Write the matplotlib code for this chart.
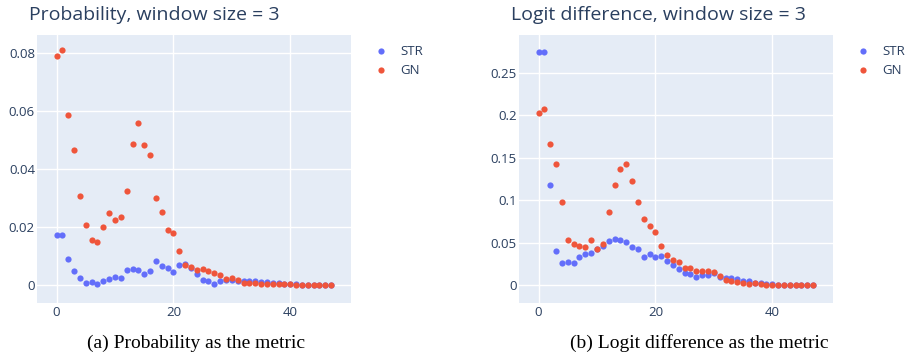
import matplotlib
matplotlib.use('Agg')
import matplotlib.pyplot as plt
from matplotlib.ticker import FuncFormatter
import numpy as np

# window position index (0..47)
positions = list(range(48))

# probability metric
prob_str = [0.0175, 0.0175, 0.0090, 0.0051, 0.0024, 0.0009, 0.0013, 0.0006, 0.0014, 0.0022,
            0.0029, 0.0026, 0.0052, 0.0055, 0.0054, 0.0040, 0.0049, 0.0084, 0.0066, 0.0059,
            0.0045, 0.0069, 0.0075, 0.0061, 0.0038, 0.0018, 0.0015, 0.0005, 0.0015, 0.0020,
            0.0020, 0.0016, 0.0015, 0.0015, 0.0014, 0.0013, 0.0011, 0.0009, 0.0007, 0.0006,
            0.0004, 0.0003, 0.0002, 0.0002, 0.0001, 0.0001, 0.0001, 0.0000]
prob_gn = [0.0790, 0.0810, 0.0586, 0.0467, 0.0308, 0.0207, 0.0157, 0.0149, 0.0201, 0.0249,
           0.0226, 0.0234, 0.0325, 0.0486, 0.0559, 0.0485, 0.0449, 0.0302, 0.0252, 0.0191,
           0.0179, 0.0119, 0.0071, 0.0064, 0.0052, 0.0056, 0.0048, 0.0041, 0.0034, 0.0023,
           0.0026, 0.0017, 0.0009, 0.0007, 0.0007, 0.0006, 0.0005, 0.0005, 0.0004, 0.0004,
           0.0003, 0.0002, 0.0002, 0.0001, 0.0001, 0.0001, 0.0001, 0.0001]

# logit difference metric
logit_str = [0.274, 0.274, 0.1184, 0.0404, 0.0266, 0.0274, 0.0262, 0.0329, 0.0372, 0.0384,
             0.0424, 0.0459, 0.0525, 0.0549, 0.0537, 0.0506, 0.0447, 0.0433, 0.0333, 0.0367,
             0.0337, 0.0345, 0.0292, 0.0236, 0.0196, 0.0141, 0.0129, 0.0102, 0.0116, 0.0125,
             0.0140, 0.0102, 0.0090, 0.0082, 0.0076, 0.0055, 0.0047, 0.0033, 0.0029, 0.0017,
             0.0013, 0.0008, 0.0006, 0.0005, 0.0004, 0.0003, 0.0002, 0.0001]
logit_gn = [0.203, 0.208, 0.1659, 0.1431, 0.0984, 0.0529, 0.0490, 0.0459, 0.0455, 0.0537,
            0.0431, 0.0490, 0.0862, 0.1176, 0.1365, 0.1430, 0.1227, 0.0982, 0.0780, 0.0701,
            0.0627, 0.0462, 0.0356, 0.0298, 0.0273, 0.0200, 0.0200, 0.0173, 0.0171, 0.0163,
            0.0158, 0.0110, 0.0061, 0.0053, 0.0043, 0.0029, 0.0020, 0.0026, 0.0018, 0.0008,
            0.0003, 0.0001, 0.0001, 0.0001, 0.0001, 0.0001, 0.0001, 0.0001]

BLUE = '#636EFA'
RED = '#EF553B'
BG = '#E5ECF6'
TXT = '#2a3f5f'

W, H = 907, 358
fig = plt.figure(figsize=(W / 100, H / 100), dpi=100)
plt.rcParams['font.family'] = ['Open Sans', 'DejaVu Sans']


def px_axes(x0, y0, x1, y1):
    return fig.add_axes([x0 / W, 1 - y1 / H, (x1 - x0) / W, (y1 - y0) / H])


def style(ax, ylim, yticks, title):
    ax.set_facecolor(BG)
    for s in ax.spines.values():
        s.set_visible(False)
    ax.set_xlim(-3.35, 50.4)
    ax.set_ylim(*ylim)
    ax.set_xticks([0, 20, 40])
    ax.set_yticks(yticks)
    ax.yaxis.set_major_formatter(FuncFormatter(lambda v, p: f'{v:g}'))
    ax.grid(True, color='white', linewidth=1)
    ax.set_axisbelow(True)
    ax.tick_params(length=0, labelsize=9.5, labelcolor=TXT)
    ax.tick_params(axis='y', pad=1.5)
    ax.tick_params(axis='x', pad=2.5)
    ax.set_title(title, loc='left', x=-0.027, y=1.025, fontsize=14, color=TXT)
    leg = ax.legend(loc='upper left', bbox_to_anchor=(1.015, 1.008), frameon=False,
                    fontsize=9.5, handletextpad=0.5, labelspacing=0.45,
                    bbox_transform=ax.transAxes)
    for t in leg.get_texts():
        t.set_color(TXT)


ax1 = px_axes(37, 35, 351, 303)
ax1.scatter(positions, prob_str, s=20, color=BLUE, label='STR', zorder=3, linewidths=0)
ax1.scatter(positions, prob_gn, s=20, color=RED, label='GN', zorder=3, linewidths=0)
style(ax1, (-0.0061, 0.0863), [0, 0.02, 0.04, 0.06, 0.08],
      'Probability, window size = 3')

ax2 = px_axes(519, 35, 833, 303)
ax2.scatter(positions, logit_str, s=20, color=BLUE, label='STR', zorder=3, linewidths=0)
ax2.scatter(positions, logit_gn, s=20, color=RED, label='GN', zorder=3, linewidths=0)
style(ax2, (-0.0208, 0.2945), [0, 0.05, 0.1, 0.15, 0.2, 0.25],
      'Logit difference, window size = 3')

fig.text(196 / W, 1 - 343 / H, '(a) Probability as the metric', ha='center', va='center',
         family='Liberation Serif', fontsize=14, color='black')
fig.text(699 / W, 1 - 343 / H, '(b) Logit difference as the metric', ha='center', va='center',
         family='Liberation Serif', fontsize=14, color='black')

fig.savefig('out.png', dpi=100)
